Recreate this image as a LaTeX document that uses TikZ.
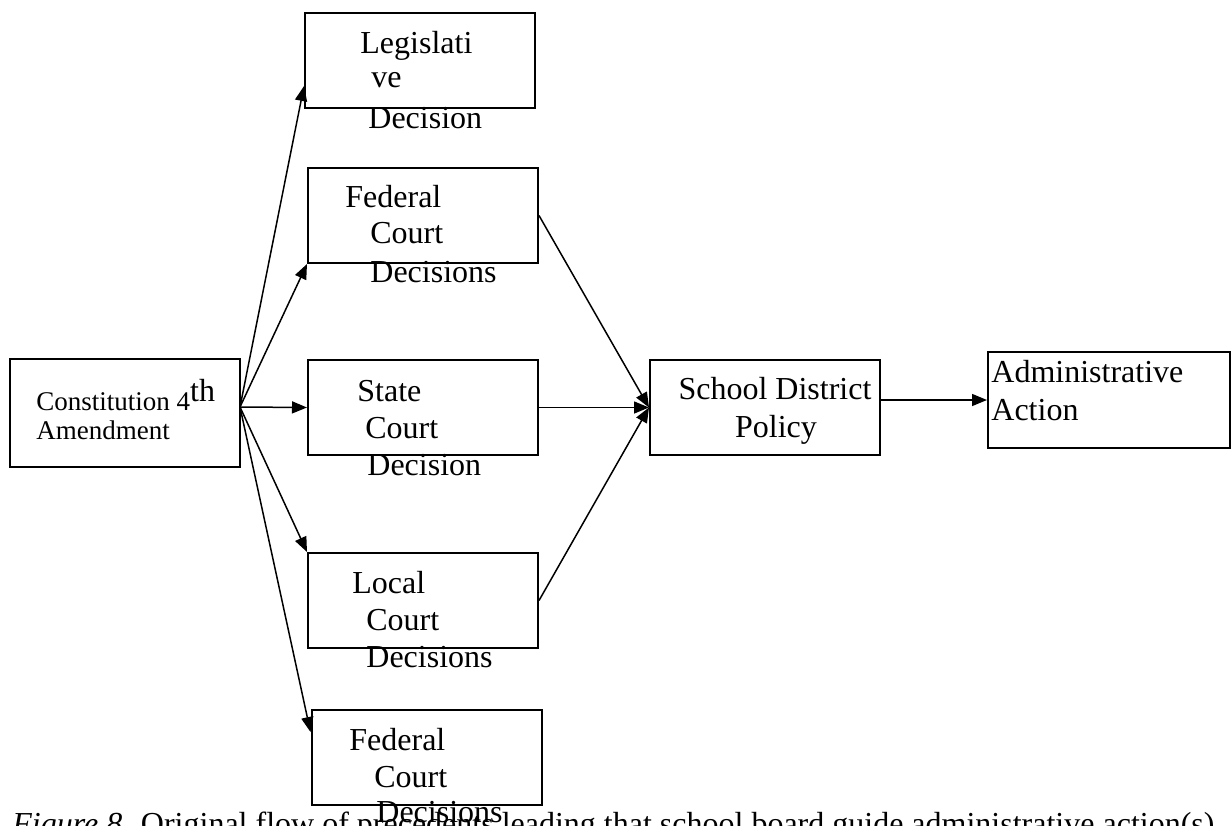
\documentclass[tikz,border=0pt]{standalone}
\usepackage{fontspec}
\setmainfont{Liberation Serif}
\usetikzlibrary{arrows.meta}

\begin{document}
\begin{tikzpicture}[x=0.5pt,y=-0.5pt,
  box/.style={draw,line width=1pt,inner sep=0pt,minimum width=115pt,minimum height=47.5pt},
  txt/.style={anchor=base west,inner sep=0pt,font=\fontsize{16}{18.75}\selectfont},
  flow/.style={-{Triangle[length=7.5pt,width=6pt]},line width=0.75pt}]
\useasboundingbox (0,0) rectangle (1232,825);
% boxes
\node[box,minimum height=54pt] (const) at (125,413) {};
\node[box] (legis) at (420,60.5) {};
\node[box] (fed1) at (423,215.5) {};
\node[box] (state) at (423,407.5) {};
\node[box] (local) at (423,600.5) {};
\node[box] (fed2) at (426.5,757.5) {};
\node[box] (school) at (765,407.5) {};
\node[box,minimum width=121pt,minimum height=48pt] (admin) at (1109,400) {};
% box texts, line by line as printed
\node[txt,font=\fontsize{13.5}{14.5}\selectfont] (c1) at (36,410) {Constitution 4\raisebox{4.5pt}{\fontsize{16}{16}\selectfont th}};
\node[txt,font=\fontsize{13.5}{14.5}\selectfont] (c2) at (36,439) {Amendment};
\foreach \x/\y/\t [count=\i] in {360/53/Legislati, 371/87/ve, 368/128/Decision,
    345/207/Federal, 370/243/Court, 370/282/Decisions,
    357/401/State, 365/438/Court, 367/475/Decision,
    352/593/Local, 366/630/Court, 366/667/Decisions,
    349/750/Federal, 374/787/Court, 376/822/Decisions,
    991/382/Administrative, 991/420/Action}
  \node[txt] (t\i) at (\x,\y) {\t};
\node[txt,anchor=base] (s1) at (775,399) {School District};
\node[txt,anchor=base] (s2) at (776,437) {Policy};
% arrows
\coordinate (src) at (240,407);
\draw[flow] (src) -- ([yshift=11.5pt]legis.south west);
\draw[flow] (src) -- (fed1.south west);
\draw[flow] (src) -- (state.west);
\draw[flow] (src) -- (local.north west);
\draw[flow] (src) -- ([yshift=-11.5pt]fed2.north west);
\foreach \n in {fed1,state,local} \draw[flow] (\n.east) -- (school.west);
\draw[flow] (school.east |- admin.west) -- (admin.west);
% caption, cut by the page edge
\node[txt] (cap) at (12,834) {\textit{Figure 8.} Original flow of precedents leading that school board guide administrative action(s)};
\end{tikzpicture}
\end{document}
